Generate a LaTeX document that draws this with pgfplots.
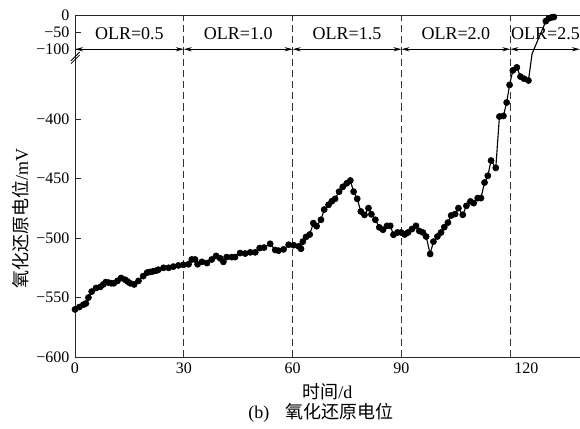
\documentclass[border=0pt]{standalone}
\usepackage{fontspec}
\setmainfont{Liberation Serif}
\newfontfamily\cjk{Noto Sans CJK SC}
\usepackage{pgfplots}
\usepackage{pgfplotstable}
\pgfplotsset{compat=1.18}
\usetikzlibrary{arrows.meta}

% Redox potential (mV) over time (d); k=1 marks a bend of the line that carries no marker
\pgfplotstableread{
day orp k
0 -560 0
1.2 -558 0
2.3 -556 0
3.0 -555 0
3.7 -550 0
4.6 -545 0
5.8 -542 0
7.0 -541 0
7.8 -539 0
8.5 -537 0
9.3 -537.5 0
10.0 -538 0
10.7 -538 0
11.7 -536 0
12.7 -533.6 0
13.8 -535 0
14.5 -536.5 0
15.2 -538 0
16.3 -539 0
17.5 -536 0
18.8 -532 0
19.9 -529 0
20.7 -528.5 0
21.5 -528 0
22.3 -527.5 0
23.0 -526.6 0
24.4 -525 0
25.8 -525 0
27.1 -524 0
28.5 -523 0
29.9 -522.5 0
31.3 -522 0
32.2 -518 0
33.1 -518 0
33.8 -522 0
35.0 -520 0
36.4 -521 0
37.7 -518 0
38.9 -515 0
40.0 -517 0
40.9 -520 0
41.8 -516 0
43.2 -516 0
44.1 -516 0
45.5 -512.6 0
46.9 -513 0
48.3 -512 0
49.7 -512 0
50.9 -508.4 0
52.1 -508 0
53.8 -504.8 0
55.2 -510 0
56.1 -510.6 0
57.5 -509.5 0
58.9 -505.6 0
60.3 -506 0
61.7 -507 0
62.3 -509 0
62.8 -503 0
63.7 -499 0
64.7 -497 0
65.7 -487.4 0
66.6 -490 0
67.8 -484.6 0
68.7 -476 0
69.9 -472 0
70.8 -469 0
71.7 -467 0
72.8 -461 0
73.8 -457 0
74.9 -454 0
75.9 -451.6 0
76.8 -461 0
77.8 -467 0
78.8 -477.6 0
79.8 -480.5 0
80.9 -474.8 0
81.7 -480 0
82.8 -484.6 0
83.9 -491 0
84.9 -493 0
86.0 -489.7 0
86.9 -489.7 0
87.8 -497.2 0
88.9 -495.3 0
89.9 -495.3 0
90.9 -497 0
91.8 -495.3 0
92.9 -492.4 0
94.0 -489.7 0
94.9 -494 0
95.9 -495.3 0
96.8 -498.7 0
97.9 -513.4 0
98.8 -503 0
99.9 -498.7 0
100.9 -495.3 0
101.8 -490.8 0
102.8 -487 0
103.7 -481 0
104.8 -479.8 0
105.7 -474.8 0
106.9 -480.4 0
107.9 -472.9 0
109.0 -469.2 0
109.9 -470.6 0
111.0 -466.4 0
111.9 -466.4 0
112.9 -453.3 0
113.8 -447.6 0
114.7 -434.8 0
116.0 -441 0
117.0 -397.8 0
118.1 -397.3 0
119.0 -386 0
119.8 -371.2 0
120.7 -359 0
121.8 -356.5 0
122.8 -364.2 0
123.8 -366 0
125.0 -367.5 0
126.0 -345 1
129.8 -18 0
130.6 -10 0
131.4 -7 0
132.0 -6 0
}\orpdata

\begin{document}
\begin{tikzpicture}[font=\fontsize{11.25}{13}\selectfont]
\begin{axis}[
  at={(0,0)}, anchor=south west,
  scale only axis, width=315.6pt, height=213.75pt,
  xmin=0, xmax=139.2, ymin=-600, ymax=0,
  % broken y axis: -600..-341 on the main scale, -100..0 compressed above the break
  y coord trafo/.code={\pgfmathparse{#1>-220 ? -341.2+(#1+100)*0.288 : #1}},
  axis x line*=box, axis y line*=left,
  axis line style={line width=0.6pt, black!85},
  xtick={0,30,60,90,120},
  xticklabels={0,30,60,90,\hspace*{20pt}120},
  xtick style={draw=none},
  ytick={0,-50,-100,-400,-450,-500,-550,-600},
  yticklabels={0,−50,−100,−400,−450,−500,−550,−600},
  ytick align=inside, ytick pos=left,
  major tick length=3.75pt,
  ytick style={line width=0.6pt, black!85},
  tick label style={font=\fontsize{10}{12}\selectfont},
  xlabel={{\cjk 时间}/d},
  ylabel={{\cjk 氧化还原电位}/mV},
  xlabel style={at={(axis description cs:0.5,0)}, anchor=center, yshift=-21.9pt},
  ylabel style={at={(axis description cs:-0.107,0.404)}, anchor=center},
  clip=false,
]
% stage boundaries
\pgfplotsinvokeforeach{30,60,90,120}{
  \draw[black!80, line width=0.5pt, dash pattern=on 4.5pt off 2.5pt] (axis cs:#1,-600) -- (axis cs:#1,0);
}
% stage spans
\draw[{Stealth[length=5pt,width=2.6pt]}-{Stealth[length=5pt,width=2.6pt]}, line width=0.6pt] (axis cs:0,-100) -- (axis cs:30,-100);
\draw[{Stealth[length=5pt,width=2.6pt]}-{Stealth[length=5pt,width=2.6pt]}, line width=0.6pt] (axis cs:30,-100) -- (axis cs:60,-100);
\draw[{Stealth[length=5pt,width=2.6pt]}-{Stealth[length=5pt,width=2.6pt]}, line width=0.6pt] (axis cs:60,-100) -- (axis cs:90,-100);
\draw[{Stealth[length=5pt,width=2.6pt]}-{Stealth[length=5pt,width=2.6pt]}, line width=0.6pt] (axis cs:90,-100) -- (axis cs:120,-100);
\draw[{Stealth[length=5pt,width=2.6pt]}-{Stealth[length=5pt,width=2.6pt]}, line width=0.6pt] (axis cs:120,-100) -- (axis cs:139.2,-100);
\node at (axis cs:15,-55) {OLR=0.5};
\node at (axis cs:45,-55) {OLR=1.0};
\node at (axis cs:75,-55) {OLR=1.5};
\node at (axis cs:105,-55) {OLR=2.0};
\node at (axis cs:129.7,-55) {OLR=2.5};
% break marks on the y axis
\draw[line width=0.5pt] ([xshift=-2.5pt,yshift=-7.2pt]axis cs:0,-100) -- ++(5.4pt,5.4pt);
\draw[line width=0.5pt] ([xshift=-2.5pt,yshift=-9pt]axis cs:0,-100) -- ++(5.4pt,5.4pt);
% measured series
\addplot[black, line width=0.7pt, mark=none] table[x=day, y=orp] {\orpdata};
\addplot[black, only marks, mark=*, mark size=1.9pt,
  restrict expr to domain={\thisrow{k}}{0:0}] table[x=day, y=orp] {\orpdata};
\end{axis}
\node at (153.7pt,-34.7pt) {(b)\hspace{0.9em}{\cjk 氧化还原电位}};
\pgfresetboundingbox
\path (-46.875pt,-45pt) rectangle (315.625pt,223.125pt);
\end{tikzpicture}
\end{document}
